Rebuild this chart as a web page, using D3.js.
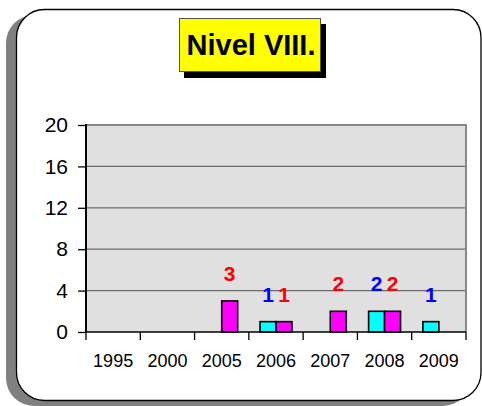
<!DOCTYPE html>
<html>
<head>
<meta charset="utf-8">
<script src="https://cdn.jsdelivr.net/npm/d3@7"></script>
<style>
  body { margin: 0; background: #fff; }
  text { font-family: "Liberation Sans", Arial, sans-serif; }
</style>
</head>
<body>
<svg id="chart" width="482" height="406"></svg>
<script>
// data
var years = ["1995", "2000", "2005", "2006", "2007", "2008", "2009"];
var cyanVals = [0, 0, 0, 1, 0, 2, 1];
var magentaVals = [0, 0, 3, 1, 2, 2, 0];
var yTicks = [0, 4, 8, 12, 16, 20];
var title = "Nivel VIII.";

var svg = d3.select("#chart");

// --------FRAME--------------
svg.append("rect")
  .attr("x", 6).attr("y", 15)
  .attr("width", 465).attr("height", 391)
  .attr("rx", 28).attr("ry", 28)
  .attr("fill", "#808080");

svg.append("rect")
  .attr("x", 16.5).attr("y", 9.5)
  .attr("width", 464.5).attr("height", 391)
  .attr("rx", 28).attr("ry", 28)
  .attr("fill", "#fff")
  .attr("stroke", "#000")
  .attr("stroke-width", 1.3);

// --------TITLE--------------
svg.append("rect")
  .attr("x", 184).attr("y", 24)
  .attr("width", 142).attr("height", 54)
  .attr("fill", "#000");

svg.append("rect")
  .attr("x", 179.5).attr("y", 18.5)
  .attr("width", 141).attr("height", 53)
  .attr("fill", "#ffff00")
  .attr("stroke", "#555")
  .attr("stroke-width", 1);

svg.append("text")
  .attr("x", 251).attr("y", 54.5)
  .attr("text-anchor", "middle")
  .style("font-size", "29px")
  .style("font-weight", "bold")
  .text(title);

// --------SCALES--------------
var x = d3.scaleBand().domain(years).range([86, 466]).padding(0);
var xSub = d3.scaleBand().domain(["c", "m"]).range([0, x.bandwidth()]).paddingOuter(0.7);
var y = d3.scaleLinear().domain([0, 20]).range([332, 125]);

// plot area
svg.append("rect")
  .attr("x", 86).attr("y", y(20))
  .attr("width", 380).attr("height", y(0) - y(20))
  .attr("fill", "#e0e0e0");

svg.append("g")
  .selectAll("line")
  .data(yTicks.filter(function(d) { return d > 0 && d < 20; }))
  .enter().append("line")
  .attr("x1", 86).attr("x2", 466)
  .attr("y1", function(d) { return y(d); })
  .attr("y2", function(d) { return y(d); })
  .attr("stroke", "#6a6a6a")
  .attr("stroke-width", 1.3);

// top + right border
svg.append("path")
  .attr("d", "M86," + y(20) + "H466V" + y(0))
  .attr("fill", "none")
  .attr("stroke", "#888")
  .attr("stroke-width", 2);

// --------BARS--------------
var rows = years.map(function(yr, i) {
  return { year: yr, c: cyanVals[i], m: magentaVals[i] };
});

var series = [
  { key: "c", fill: "#00ffff", label: "#0000ff" },
  { key: "m", fill: "#ff00ff", label: "#ff0000" }
];

series.forEach(function(s) {
  var data = rows.filter(function(d) { return d[s.key] > 0; });

  svg.append("g").selectAll("rect")
    .data(data)
    .enter().append("rect")
    .attr("x", function(d) { return x(d.year) + xSub(s.key); })
    .attr("y", function(d) { return y(d[s.key]); })
    .attr("width", xSub.bandwidth())
    .attr("height", function(d) { return y(0) - y(d[s.key]); })
    .attr("fill", s.fill)
    .attr("stroke", "#000")
    .attr("stroke-width", 1.6);

  svg.append("g").selectAll("text")
    .data(data)
    .enter().append("text")
    .attr("x", function(d) { return x(d.year) + xSub(s.key) + xSub.bandwidth() / 2; })
    .attr("y", function(d) { return y(d[s.key]) - 20; })
    .attr("text-anchor", "middle")
    .attr("fill", s.label)
    .style("font-size", "21px")
    .style("font-weight", "bold")
    .text(function(d) { return d[s.key]; });
});

// --------AXES--------------
var yAxis = svg.append("g")
  .attr("transform", "translate(86,0)")
  .call(d3.axisLeft(y).tickValues(yTicks).tickSize(8).tickPadding(10));
yAxis.select(".domain").remove();
yAxis.selectAll("line").attr("stroke", "#000").attr("stroke-width", 1.3);
yAxis.selectAll("text")
  .style("font-size", "21px")
  .style("font-family", "Liberation Sans, Arial, sans-serif")
  .attr("fill", "#000");

svg.append("line")
  .attr("x1", 86).attr("x2", 86)
  .attr("y1", y(20) - 1).attr("y2", y(0))
  .attr("stroke", "#000").attr("stroke-width", 2);

var xAxis = svg.append("g")
  .attr("transform", "translate(0," + y(0) + ")");
xAxis.append("line")
  .attr("x1", 86).attr("x2", 466)
  .attr("stroke", "#000").attr("stroke-width", 1.5);
xAxis.selectAll(".tick")
  .data(years.concat(["end"]))
  .enter().append("line")
  .attr("x1", function(d) { return d == "end" ? 466 : x(d); })
  .attr("x2", function(d) { return d == "end" ? 466 : x(d); })
  .attr("y1", 0).attr("y2", 8)
  .attr("stroke", "#000").attr("stroke-width", 1.3);
xAxis.selectAll(".lbl")
  .data(years)
  .enter().append("text")
  .attr("x", function(d) { return x(d) + x.bandwidth() / 2; })
  .attr("y", 35)
  .attr("text-anchor", "middle")
  .style("font-size", "18px")
  .text(function(d) { return d; });
</script>
</body>
</html>
